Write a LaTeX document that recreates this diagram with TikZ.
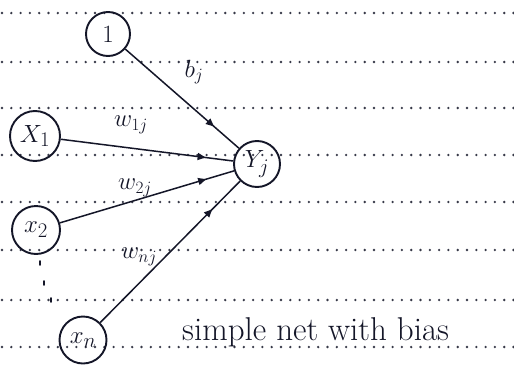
\documentclass[tikz,border=0pt]{standalone}
\usetikzlibrary{decorations.markings,arrows.meta}
\definecolor{ink}{RGB}{20,22,40}
\begin{document}
\begin{tikzpicture}[x=1pt,y=-1pt,
  neuron/.style={draw=ink,circle,line width=1.9pt,inner sep=0pt,text=ink,font=\fontsize{28}{28}\selectfont},
  ruling/.style={line width=2.6pt,line cap=round,dash pattern=on 0pt off 9.3pt,color=ink!85},
  link/.style={draw=ink,line width=1.5pt,postaction={decorate},
    decoration={markings,mark=at position #1 with {\arrow{Triangle[length=8pt,width=7pt]}}}},
  link/.default=0.8,
  wlabel/.style={text=ink,font=\fontsize{27}{27}\selectfont}]
\useasboundingbox (0,0) rectangle (514,367);
\fill[white] (0,0) rectangle (514,367);

% notebook rulings
\foreach \yy in {13,62,108,155,202,250,300,347}
  \draw[ruling] (2,\yy) -- (514,\yy);

% neurons
\node[neuron,minimum size=44pt] (one) at (108,34) {$1$};
\node[neuron,minimum size=50pt] (x1) at (35,136) {$X_1$};
\node[neuron,minimum size=48pt] (x2) at (36,230) {$x_2$};
\node[neuron,minimum size=47pt] (xn) at (83,340) {$x_n$};
\node[neuron,minimum size=46pt] (yj) at (257,164) {$Y_j$};

% weighted connections
\draw[link=0.78] (one) -- (yj);
\draw[link=0.84] (x1) -- (yj);
\draw[link=0.84] (x2) -- (yj);
\draw[link=0.8] (xn) -- (yj);

% weight labels
\node[wlabel] (lb) at (194,72) {$b_j$};
\node[wlabel] (l1) at (131,125) {$w_{1j}$};
\node[wlabel] (l2) at (135,188) {$w_{2j}$};
\node[wlabel] (ln) at (139,257) {$w_{nj}$};

% vertical ellipsis between x2 and xn
\coordinate (d1) at (40,263);
\coordinate (d2) at (44,283);
\coordinate (d3) at (51,300);
\foreach \d in {d1,d2,d3}
  \draw[ink,line width=1.9pt,line cap=round] ([yshift=-2pt]\d) -- ([yshift=2pt]\d);

% caption
\node[font=\fontsize{33}{33}\selectfont,text=ink,anchor=base west,inner sep=0pt] (cap) at (182,340) {simple net with bias};
\end{tikzpicture}
\end{document}
